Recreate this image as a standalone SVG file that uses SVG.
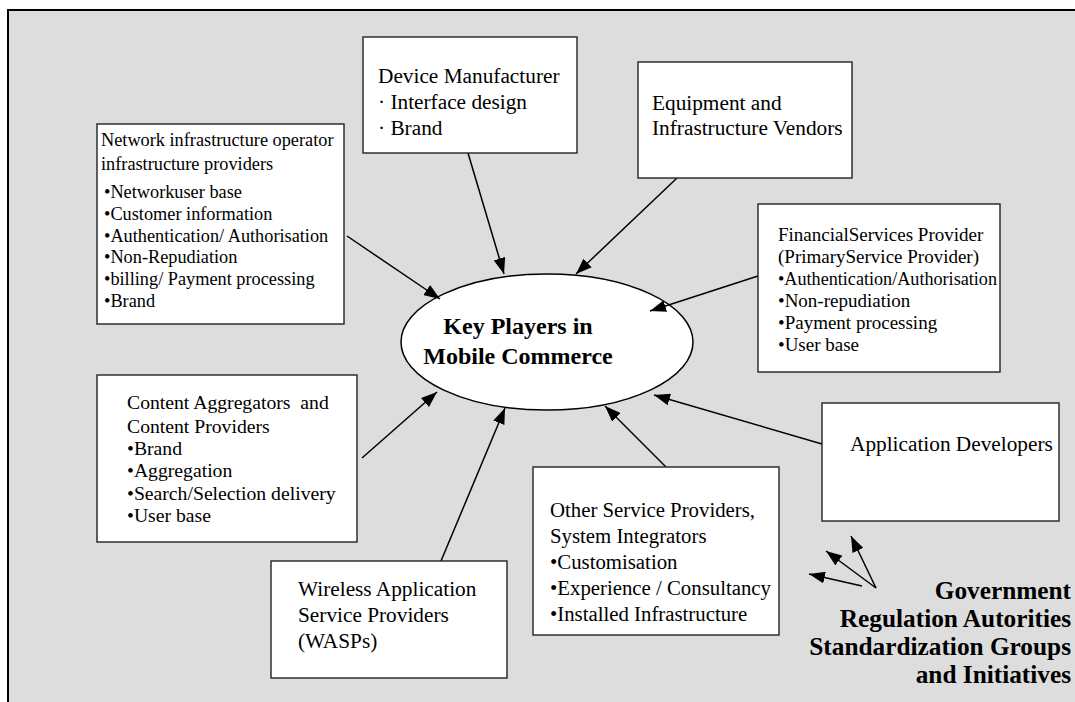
<svg xmlns="http://www.w3.org/2000/svg" width="1075" height="702" viewBox="0 0 1075 702">
<defs>
<style>
.box{fill:#fff;stroke:#222;stroke-width:1.4}
.t{font-family:"Liberation Serif","Times New Roman",serif;fill:#000}
.b{font-weight:bold}
.ln{stroke:#000;stroke-width:1.5;fill:none;marker-end:url(#ah)}
</style>
<marker id="ah" viewBox="0 0 16 12" refX="16" refY="6" markerWidth="16" markerHeight="12" orient="auto" markerUnits="userSpaceOnUse">
<path d="M0,0 L16,6 L0,12 z" fill="#000"/>
</marker>
</defs>
<rect x="0" y="0" width="1075" height="702" fill="#fff"/>
<rect x="8" y="10" width="1090" height="720" fill="#dddddd" stroke="#000" stroke-width="2"/>

<g id="center">
<ellipse cx="547" cy="342" rx="146" ry="68" fill="#fff" stroke="#000" stroke-width="1.5"/>
<text class="t b" x="518" y="334" font-size="24" text-anchor="middle">Key Players in</text>
<text class="t b" x="518" y="364" font-size="24" text-anchor="middle">Mobile Commerce</text>
</g>

<g id="connectors">
<line class="ln" x1="347" y1="236" x2="440" y2="299"/>
<line class="ln" x1="468" y1="153" x2="504" y2="274"/>
<line class="ln" x1="677" y1="178" x2="576" y2="274"/>
<line class="ln" x1="758" y1="276" x2="650" y2="311"/>
<line class="ln" x1="822" y1="444" x2="654" y2="395"/>
<line class="ln" x1="666" y1="467" x2="605" y2="406"/>
<line class="ln" x1="441" y1="561" x2="505" y2="408"/>
<line class="ln" x1="362" y1="458" x2="437" y2="392"/>
<line class="ln" x1="862" y1="586" x2="809" y2="574"/>
<line class="ln" x1="876" y1="588" x2="826" y2="551"/>
<line class="ln" x1="876" y1="588" x2="851" y2="536"/>
</g>

<g id="device">
<rect class="box" x="363" y="37" width="214" height="116"/>
<text class="t" font-size="21.3"><tspan x="378" y="83">Device Manufacturer</tspan><tspan x="378" y="109">· Interface design</tspan><tspan x="378" y="135">· Brand</tspan></text>
</g>

<g id="equipment">
<rect class="box" x="638" y="62" width="214" height="116"/>
<text class="t" font-size="21.3"><tspan x="652" y="110">Equipment and</tspan><tspan x="652" y="135">Infrastructure Vendors</tspan></text>
</g>

<g id="network">
<rect class="box" x="97" y="124" width="247" height="200"/>
<text class="t" font-size="18.3"><tspan x="101" y="146">Network infrastructure operator</tspan><tspan x="101" y="170">infrastructure providers</tspan><tspan x="104" y="198">•Networkuser base</tspan><tspan x="104" y="220">•Customer information</tspan><tspan x="104" y="242">•Authentication/ Authorisation</tspan><tspan x="104" y="263">•Non-Repudiation</tspan><tspan x="104" y="285">•billing/ Payment processing</tspan><tspan x="104" y="307">•Brand</tspan></text>
</g>

<g id="financial">
<rect class="box" x="758" y="204" width="242" height="168"/>
<text class="t" font-size="19"><tspan x="778" y="241">FinancialServices Provider</tspan><tspan x="778" y="263">(PrimaryService Provider)</tspan><tspan x="778" y="285" textLength="219" lengthAdjust="spacingAndGlyphs">•Authentication/Authorisation</tspan><tspan x="778" y="307">•Non-repudiation</tspan><tspan x="778" y="329">•Payment processing</tspan><tspan x="778" y="351">•User base</tspan></text>
</g>

<g id="content">
<rect class="box" x="97" y="375" width="260" height="167"/>
<text class="t" font-size="19.7"><tspan x="127" y="409">Content Aggregators&#160; and</tspan><tspan x="127" y="433">Content Providers</tspan><tspan x="127" y="455">•Brand</tspan><tspan x="127" y="477">•Aggregation</tspan><tspan x="127" y="500">•Search/Selection delivery</tspan><tspan x="127" y="522">•User base</tspan></text>
</g>

<g id="wasp">
<rect class="box" x="271" y="561" width="236" height="117"/>
<text class="t" font-size="21.3"><tspan x="298" y="596">Wireless Application</tspan><tspan x="298" y="622">Service Providers</tspan><tspan x="298" y="648">(WASPs)</tspan></text>
</g>

<g id="other">
<rect class="box" x="533" y="467" width="246" height="168"/>
<text class="t" font-size="20.8"><tspan x="550" y="517">Other Service Providers,</tspan><tspan x="550" y="543">System Integrators</tspan><tspan x="550" y="569">•Customisation</tspan><tspan x="550" y="595">•Experience / Consultancy</tspan><tspan x="550" y="621">•Installed Infrastructure</tspan></text>
</g>

<g id="appdev">
<rect class="box" x="822" y="403" width="237" height="118"/>
<text class="t" font-size="21.3" x="850" y="451">Application Developers</text>
</g>

<g id="government">
<text class="t b" font-size="25.3" text-anchor="end"><tspan x="1071" y="599">Government</tspan><tspan x="1071" y="627">Regulation Autorities</tspan><tspan x="1071" y="655">Standardization Groups</tspan><tspan x="1071" y="683">and Initiatives</tspan></text>
</g>
</svg>
